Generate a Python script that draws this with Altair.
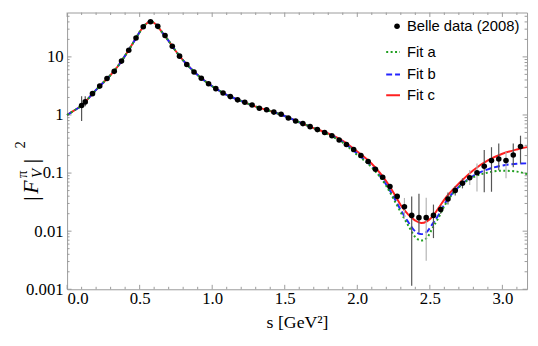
import altair as alt
import pandas as pd

# ---------------- data ----------------
s_data = [0.1, 0.125, 0.175, 0.225, 0.275, 0.325, 0.375, 0.425, 0.475, 0.525,
          0.575, 0.625, 0.675, 0.725, 0.775, 0.825, 0.875, 0.925, 0.975, 1.025,
          1.075, 1.125, 1.175, 1.225, 1.275, 1.325, 1.375, 1.425, 1.475, 1.525,
          1.575, 1.625, 1.675, 1.725, 1.775, 1.825, 1.875, 1.925, 1.975, 2.025,
          2.075, 2.125, 2.175, 2.225, 2.275, 2.325, 2.375, 2.425, 2.475, 2.525,
          2.575, 2.625, 2.675, 2.725, 2.775, 2.825, 2.875, 2.925, 2.975, 3.025,
          3.075, 3.125]
f_data = [1.46, 1.68, 2.33, 3.14, 4.24, 5.63, 8.46, 13.0, 21.2, 33.1,
          40.3, 33.5, 23.3, 15.2, 10.3, 7.40, 5.50, 4.29, 3.45, 2.84,
          2.39, 2.07, 1.82, 1.66, 1.48, 1.31, 1.23, 1.12, 1.03, 0.89,
          0.79, 0.71, 0.63, 0.56, 0.50, 0.44, 0.37, 0.31, 0.255, 0.20,
          0.158, 0.116, 0.0846, 0.0586, 0.0397, 0.0262, 0.0187, 0.0171, 0.0171, 0.0187,
          0.0236, 0.0358, 0.0501, 0.0669, 0.0832, 0.101, 0.131, 0.164, 0.175, 0.164,
          0.204, 0.287]

err_s = [0.1, 0.125, 2.325, 2.375, 2.425, 2.475, 2.525, 2.575, 2.625, 2.675,
         2.725, 2.775, 2.825, 2.875, 2.925, 2.975, 3.025, 3.075, 3.125]
err_lo = [0.79, 1.42, 0.0164, 0.00115, 0.0095, 0.0031, 0.0076, 0.020, 0.0287, 0.041,
          0.0545, 0.0626, 0.0482, 0.047, 0.0477, 0.112, 0.0813, 0.126, 0.146]
err_hi = [2.10, 2.10, 0.0373, 0.0396, 0.044, 0.0377, 0.0287, 0.028, 0.0465, 0.060,
          0.081, 0.1125, 0.146, 0.25, 0.279, 0.322, 0.23, 0.322, 0.44]
err_shade = ["dark", "dark", "light", "dark", "dark", "light", "dark", "dark", "dark", "dark",
             "dark", "light", "light", "dark", "dark", "dark", "light", "dark", "dark"]

s_fit = [0.0, 0.05, 0.1, 0.15, 0.2, 0.25, 0.3, 0.35, 0.4, 0.45,
         0.5, 0.525, 0.55, 0.575, 0.6, 0.625, 0.65, 0.7, 0.75, 0.8,
         0.85, 0.9, 1.0, 1.1, 1.2, 1.3, 1.4, 1.5, 1.6, 1.7,
         1.8, 1.9, 2.0, 2.1, 2.2, 2.25, 2.3, 2.35, 2.4, 2.44,
         2.48, 2.52, 2.56, 2.6, 2.7, 2.8, 2.9, 3.0, 3.1, 3.17]
fit_common = [1.0, 1.2, 1.45, 1.97, 2.7, 3.63, 4.88, 6.9, 10.5, 16.6,
              26.7, 33.0, 38.0, 41.0, 38.3, 33.3, 27.5, 18.8, 12.5, 8.7,
              6.4, 4.86, 3.12, 2.22, 1.74, 1.39, 1.17, 0.96, 0.75, 0.594]
fit_a_tail = [0.46, 0.335, 0.205, 0.125, 0.06, 0.036, 0.021, 0.0127, 0.0079, 0.0069,
              0.0077, 0.0115, 0.017, 0.027, 0.057, 0.085, 0.102, 0.11, 0.106, 0.096]
fit_b_tail = [0.47, 0.345, 0.215, 0.13, 0.063, 0.039, 0.023, 0.0145, 0.0099, 0.0089,
              0.0098, 0.0135, 0.019, 0.029, 0.058, 0.09, 0.116, 0.135, 0.145, 0.147]
fit_c_tail = [0.48, 0.36, 0.235, 0.145, 0.072, 0.046, 0.028, 0.0195, 0.0152, 0.0138,
              0.0148, 0.018, 0.025, 0.035, 0.066, 0.112, 0.165, 0.215, 0.255, 0.28]

legend_labels = ["Belle data (2008)", "Fit a", "Fit b", "Fit c"]

x_major = [0.0, 0.5, 1.0, 1.5, 2.0, 2.5, 3.0]
x_minor = [0.1, 0.2, 0.3, 0.4, 0.6, 0.7, 0.8, 0.9, 1.1, 1.2, 1.3, 1.4, 1.6, 1.7, 1.8,
           1.9, 2.1, 2.2, 2.3, 2.4, 2.6, 2.7, 2.8, 2.9, 3.1]
y_major = [0.001, 0.01, 0.1, 1, 10]
y_minor = [0.002, 0.003, 0.004, 0.005, 0.006, 0.007, 0.008, 0.009,
           0.02, 0.03, 0.04, 0.05, 0.06, 0.07, 0.08, 0.09,
           0.2, 0.3, 0.4, 0.5, 0.6, 0.7, 0.8, 0.9,
           2, 3, 4, 5, 6, 7, 8, 9, 20, 30, 40, 50]

# ---------------- layout ----------------
W, H = 467, 281
FRAME = "#9a9a9a"
SERIF = "Liberation Serif"
SANS = "Liberation Sans"
GREEN, BLUE, RED = "#1f9e1f", "#2424ff", "#ff2020"

xscale = alt.Scale(domain=[0, 3.17], nice=False, zero=False)
yscale = alt.Scale(type="log", domain=[0.001, 58], nice=False)
xaxis = alt.Axis(values=x_major, format=".1f", domain=False, ticks=False, grid=False,
                 labelFont=SERIF, labelFontSize=17, labelColor="black", labelPadding=1,
                 title="s [GeV²]", titleFont=SERIF, titleFontSize=18, titleFontWeight="normal",
                 titleColor="black", titlePadding=8)
yaxis = alt.Axis(values=y_major, format="~g", domain=False, ticks=False, grid=False,
                 labelFont=SERIF, labelFontSize=17, labelColor="black", labelPadding=4,
                 title=None)


def X(field):
    return alt.X(field, type="quantitative", scale=xscale, axis=xaxis)


def Y(field):
    return alt.Y(field, type="quantitative", scale=yscale, axis=yaxis)


df_pts = pd.DataFrame({"s": s_data, "v": f_data})
df_err = pd.DataFrame({"s": err_s, "lo": err_lo, "hi": err_hi, "shade": err_shade})
df_a = pd.DataFrame({"s": s_fit, "v": fit_common + fit_a_tail})
df_b = pd.DataFrame({"s": s_fit, "v": fit_common + fit_b_tail})
df_c = pd.DataFrame({"s": s_fit, "v": fit_common + fit_c_tail})

layers = []

# ticks (inward, on all four sides)
for vals, ln in ((y_major, 4.5), (y_minor, 2.5)):
    d = pd.DataFrame({"v": vals})
    layers.append(alt.Chart(d).mark_rule(color=FRAME, strokeWidth=1).encode(
        y=Y("v"), x=alt.value(0), x2=alt.value(ln)))
    layers.append(alt.Chart(d).mark_rule(color=FRAME, strokeWidth=1).encode(
        y=Y("v"), x=alt.value(W), x2=alt.value(W - ln)))
for vals, ln in ((x_major, 4.5), (x_minor, 2.5)):
    d = pd.DataFrame({"s": vals})
    layers.append(alt.Chart(d).mark_rule(color=FRAME, strokeWidth=1).encode(
        x=X("s"), y=alt.value(H), y2=alt.value(H - ln)))
    layers.append(alt.Chart(d).mark_rule(color=FRAME, strokeWidth=1).encode(
        x=X("s"), y=alt.value(0), y2=alt.value(ln)))

# fits
layers.append(alt.Chart(df_c).mark_line(color=RED, strokeWidth=2, interpolate="monotone").encode(
    x=X("s"), y=Y("v")))
layers.append(alt.Chart(df_b).mark_line(color=BLUE, strokeWidth=2, strokeDash=[6, 3],
                                        interpolate="monotone").encode(x=X("s"), y=Y("v")))
layers.append(alt.Chart(df_a).mark_line(color=GREEN, strokeWidth=2, strokeDash=[2, 2.5],
                                        interpolate="monotone").encode(x=X("s"), y=Y("v")))

# error bars
layers.append(alt.Chart(df_err).mark_rule(strokeWidth=1.2).encode(
    x=X("s"), y=Y("lo"), y2="hi",
    color=alt.Color("shade:N", scale=alt.Scale(domain=["dark", "light"], range=["#555555", "#b4b4b4"]),
                    legend=None)))

# data points
layers.append(alt.Chart(df_pts).mark_circle(color="black", size=32, opacity=1).encode(
    x=X("s"), y=Y("v")))

# legend
legend_y = [14, 40, 63, 84]
one = pd.DataFrame({"k": [0]})
layers.append(alt.Chart(one).mark_circle(color="black", size=32, opacity=1).encode(
    x=alt.value(335), y=alt.value(legend_y[0])))
for (col, dash), ly in zip(((GREEN, [2, 2.5]), (BLUE, [6, 3]), (RED, [1, 0])), legend_y[1:]):
    layers.append(alt.Chart(one).mark_rule(color=col, strokeWidth=2, strokeDash=dash).encode(
        x=alt.value(324), x2=alt.value(338), y=alt.value(ly)))
for lab, ly in zip(legend_labels, legend_y):
    layers.append(alt.Chart(one).mark_text(text=lab, font=SANS, fontSize=15, align="left",
                                           baseline="middle", color="black").encode(
        x=alt.value(345), y=alt.value(ly)))

# y-axis title |F_V^pi|^2 (rotated pieces)
title_pieces = [("|", -30, 191, 22, "normal"), ("F", -30, 184, 22, "italic"),
                ("V", -25, 168, 15, "italic"), ("π", -41, 168, 15, "normal"),
                ("|", -30, 153, 22, "normal"), ("2", -43, 138, 15, "normal")]
for txt, px, py, fs, st in title_pieces:
    layers.append(alt.Chart(one).mark_text(text=txt, font=SERIF, fontSize=fs, fontStyle=st,
                                           angle=270, align="left", baseline="alphabetic",
                                           color="black").encode(
        x=alt.value(px), y=alt.value(py)))

chart = alt.layer(*layers).properties(
    width=W, height=H,
    autosize=alt.AutoSizeParams(type="none"),
    padding={"left": 60, "top": 2, "right": 3, "bottom": 55},
).configure_view(stroke=FRAME, strokeWidth=1).configure_axis(
    labelFont=SERIF, titleFont=SERIF, labelFontSize=17, labelColor="black"
)

chart.save("out.html", embed_options={"renderer": "svg", "actions": False})
